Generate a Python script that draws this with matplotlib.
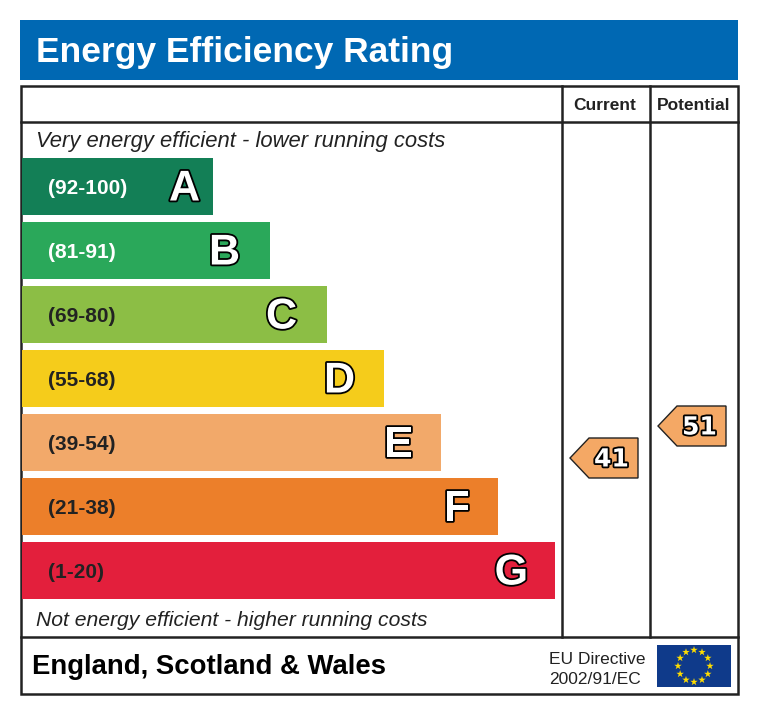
import numpy as np
import matplotlib
matplotlib.use("Agg")
import matplotlib.pyplot as plt
from matplotlib.patches import Rectangle, Polygon
import matplotlib.patheffects as pe

# ---- data ----
bands = ["A", "B", "C", "D", "E", "F", "G"]
ranges = ["(92-100)", "(81-91)", "(69-80)", "(55-68)", "(39-54)", "(21-38)", "(1-20)"]
band_colors = ["#137f56", "#2aa85a", "#8cbe45", "#f5cc1b", "#f2a96a", "#ec7f2a", "#e31f3c"]
range_text_colors = ["white", "white", "#222222", "#222222", "#222222", "#222222", "#222222"]
current_rating = 41
potential_rating = 51
title = "Energy Efficiency Rating"
col_headers = ["Current", "Potential"]
top_note = "Very energy efficient - lower running costs"
bottom_note = "Not energy efficient - higher running costs"
region = "England, Scotland & Wales"
directive = ["EU Directive", "2002/91/EC"]

# layout: gap between letter and bar end
letter_gaps = [13, 30, 30, 29, 28, 28, 27]

FONT = "Liberation Sans"
DY = 2  # small vertical text offset

fig = plt.figure(figsize=(7.6, 7.15), dpi=100)
ax = fig.add_axes([0, 0, 1, 1])
ax.set_xlim(0, 760)
ax.set_ylim(715, 0)
ax.axis("off")

# header
ax.add_patch(Rectangle((20, 20), 718, 60, facecolor="#0068b3", edgecolor="none"))
ax.text(36, 62, title, color="white", fontsize=25.5, fontweight="bold",
        family=FONT, va="baseline", ha="left")

# frame
lc = "#222222"
lw = 1.8
ax.add_patch(Rectangle((21, 86), 717, 608, facecolor="white", edgecolor=lc, lw=lw))
ax.plot([21, 738], [122, 122], color=lc, lw=lw)
ax.plot([21, 738], [637, 637], color=lc, lw=lw)
ax.plot([562, 562], [86, 637], color=lc, lw=lw)
ax.plot([650, 650], [86, 637], color=lc, lw=lw)

ax.text(605, 104 + DY, col_headers[0], fontsize=12.5, fontweight="bold", family=FONT,
        ha="center", va="center", color="#222222")
ax.text(694, 104 + DY, col_headers[1], fontsize=12.5, fontweight="bold", family=FONT,
        ha="center", va="center", color="#222222")

ax.text(36, 140 + DY, top_note, fontsize=15.8, style="italic", family=FONT,
        ha="left", va="center", color="#222222")
ax.text(36, 619 + DY, bottom_note, fontsize=15.2, style="italic", family=FONT,
        ha="left", va="center", color="#222222")

# bars
n = len(bands)
idx = np.arange(n)
centers = 186.5 + 64 * idx
widths = 191 + 57 * idx
ax.barh(centers, widths, left=22, height=57, color=band_colors, edgecolor="none")

outline = [pe.withStroke(linewidth=2.6, foreground="black")]
for i in range(n):
    ax.text(48, centers[i] + DY, ranges[i], fontsize=15, fontweight="bold", family=FONT,
            color=range_text_colors[i], ha="left", va="center")
    ax.text(22 + widths[i] - letter_gaps[i], centers[i] + 2 + DY / 2, bands[i], fontsize=31,
            fontweight="bold", family=FONT, color="white", ha="right", va="center",
            path_effects=outline)

# rating arrows
def rating_y(v):
    return 458 - (v - 41) * 3.2

def arrow(x0, x1, v):
    y = rating_y(v)
    h = 20
    pts = [(x0, y), (x0 + 19, y - h), (x1, y - h), (x1, y + h), (x0 + 19, y + h)]
    ax.add_patch(Polygon(pts, closed=True, facecolor="#f4a865", edgecolor="#222222", lw=1.0))
    ax.text((x0 + 19 + x1) / 2 - 2, y + 1.5, str(v), fontsize=18, fontweight="bold",
            family="DejaVu Sans", color="white", ha="center", va="center",
            path_effects=[pe.withStroke(linewidth=2.6, foreground="black")])

arrow(570, 638, current_rating)
arrow(658, 726, potential_rating)

# footer
ax.text(32, 665 + DY, region, fontsize=19.8, fontweight="bold", family=FONT,
        ha="left", va="center", color="black")
ax.text(597, 657 + DY, directive[0], fontsize=12.5, family=FONT, ha="center", va="center", color="#222222")
ax.text(595, 678 + DY, directive[1], fontsize=12.5, family=FONT, ha="center", va="center", color="#222222")

ax.add_patch(Rectangle((657, 645), 74, 42, facecolor="#0f3a8a", edgecolor="none"))
ang = np.linspace(0, 2 * np.pi, 12, endpoint=False)
ax.scatter(694 + 16 * np.sin(ang), 666 - 16 * np.cos(ang), marker="*", s=32,
           color="#ffdd00", edgecolors="none", zorder=5)

fig.savefig("out.png", dpi=100)
